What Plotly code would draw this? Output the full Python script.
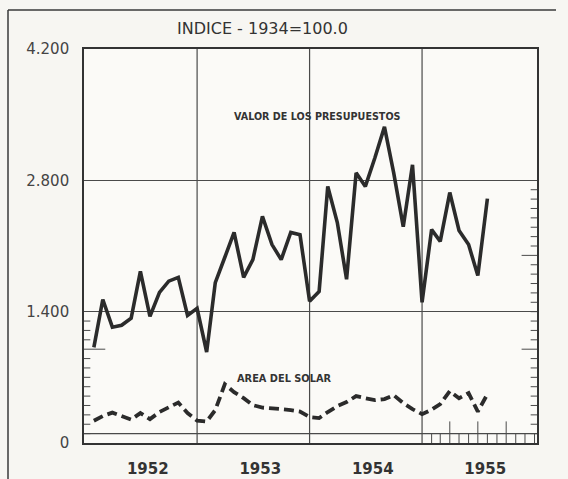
import plotly.graph_objects as go
import pandas as pd

# ---- data ----
months = pd.date_range("1952-02-01", periods=43, freq="MS").strftime("%Y-%m-%d").tolist()

valor_presupuestos = [
    1020, 1530, 1235, 1255, 1330, 1830, 1350, 1605, 1725, 1765, 1360, 1435,
    970, 1710, 1980, 2245, 1765, 1955, 2415, 2115, 1955, 2245, 2220, 1510,
    1615, 2735, 2350, 1745, 2880, 2735, 3040, 3370, 2880, 2305, 2965, 1500,
    2275, 2150, 2670, 2265, 2115, 1785, 2605,
]

area_solar = [
    237, 287, 324, 287, 250, 319, 255, 330, 383, 431, 319, 239,
    229, 351, 627, 542, 478, 404, 377, 372, 361, 351, 335, 276,
    266, 330, 393, 436, 500, 478, 457, 468, 510, 425, 361, 308,
    356, 415, 553, 478, 532, 335, 521,
]

year_labels = ["1952", "1953", "1954", "1955"]
year_label_pos = ["1952-07-25", "1953-07-25", "1954-07-25", "1955-07-25"]
year_bounds = ["1953-01-01", "1954-01-01", "1955-01-01"]

y_ticks = [0, 1400, 2800, 4200]
y_ticktext = ["0", "1.400", "2.800", "4.200"]

INK = "#2b2b2b"
GRID = "#4a4a4a"

fig = go.Figure()

fig.add_trace(go.Scatter(
    x=months, y=valor_presupuestos, mode="lines",
    line=dict(color=INK, width=3.6), name="Valor de los presupuestos",
    hoverinfo="x+y",
))
fig.add_trace(go.Scatter(
    x=months, y=area_solar, mode="lines",
    line=dict(color=INK, width=3.8, dash="10px,5px"), name="Area del solar",
    hoverinfo="x+y",
))

shapes = []
# vertical year grid lines
for d in year_bounds:
    shapes.append(dict(type="line", xref="x", yref="paper", x0=d, x1=d, y0=0, y1=1,
                       line=dict(color=GRID, width=1.2), layer="below"))
# horizontal line near the bottom (double base line)
shapes.append(dict(type="line", xref="paper", yref="y", x0=0, x1=1, y0=100, y1=100,
                   line=dict(color=GRID, width=1.3), layer="below"))
# left inner tick marks (0 - 1.400)
for v in range(100, 1400, 100):
    ln = 0.047 if v == 1000 else 0.014
    shapes.append(dict(type="line", xref="paper", yref="y", x0=0, x1=ln, y0=v, y1=v,
                       line=dict(color=GRID, width=1)))
# right inner tick marks (0 - 2.800)
for v in range(100, 2800, 100):
    ln = 0.034 if v in (1000, 2000) else 0.014
    shapes.append(dict(type="line", xref="paper", yref="y", x0=1 - ln, x1=1, y0=v, y1=v,
                       line=dict(color=GRID, width=1)))
# monthly ticks on the base in 1955
for d in pd.date_range("1955-02-01", "1956-01-01", freq="MS"):
    top = 230 if d.month in (4, 7, 10) else 100
    shapes.append(dict(type="line", xref="x", yref="y", x0=d.strftime("%Y-%m-%d"),
                       x1=d.strftime("%Y-%m-%d"), y0=0, y1=top,
                       line=dict(color=GRID, width=1)))
# page border of the scan (top and left)
shapes.append(dict(type="line", xref="paper", yref="paper",
                   x0=(8 - 84) / 453, x1=(556 - 84) / 453, y0=(443 - 10) / 394, y1=(443 - 10) / 394,
                   line=dict(color="#3a3a3a", width=1.5)))
shapes.append(dict(type="line", xref="paper", yref="paper",
                   x0=(8 - 84) / 453, x1=(8 - 84) / 453, y0=(443 - 10) / 394, y1=(443 - 480) / 394,
                   line=dict(color="#3a3a3a", width=1.5)))

annotations = [
    dict(text="INDICE - 1934=100.0", xref="paper", yref="paper",
         x=(262 - 84) / 453, y=(443 - 28) / 394, showarrow=False,
         xanchor="center", yanchor="middle",
         font=dict(family="DejaVu Sans", size=16, color="#333")),
    dict(text="<b>VALOR DE LOS PRESUPUESTOS</b>", xref="paper", yref="paper",
         x=(317.5 - 84) / 453, y=(443 - 116) / 394, showarrow=False,
         xanchor="center", yanchor="middle",
         font=dict(family="DejaVu Sans", size=9.6, color="#333")),
    dict(text="<b>AREA DEL SOLAR</b>", xref="paper", yref="paper",
         x=(284 - 84) / 453, y=(443 - 378) / 394, showarrow=False,
         xanchor="center", yanchor="middle",
         font=dict(family="DejaVu Sans", size=9.8, color="#333")),
]

fig.update_layout(
    width=568, height=479,
    margin=dict(l=84, r=31, t=49, b=36),
    paper_bgcolor="#f7f6f2", plot_bgcolor="#fbfaf7",
    showlegend=False,
    shapes=shapes, annotations=annotations,
    xaxis=dict(
        type="date", range=["1951-12-31", "1956-01-09"],
        tickmode="array", tickvals=year_label_pos, ticktext=year_labels,
        showgrid=False, ticks="", ticklabelstandoff=11, automargin=False,
        tickfont=dict(family="DejaVu Sans", size=15, color="#333", weight="bold"),
        showline=True, linecolor="#333", linewidth=1.6, mirror=True, zeroline=False,
    ),
    yaxis=dict(
        range=[0, 4200], tickmode="array", tickvals=y_ticks, ticktext=y_ticktext,
        showgrid=True, gridcolor=GRID, gridwidth=1.2, ticks="", ticklabelstandoff=10,
        automargin=False,
        tickfont=dict(family="DejaVu Sans", size=15, color="#444"),
        showline=True, linecolor="#333", linewidth=1.6, mirror=True, zeroline=False,
    ),
)

fig.write_html("out.html", config={"displayModeBar": False},
               post_script="document.body.style.margin='0';document.body.style.background='#f7f6f2';")
